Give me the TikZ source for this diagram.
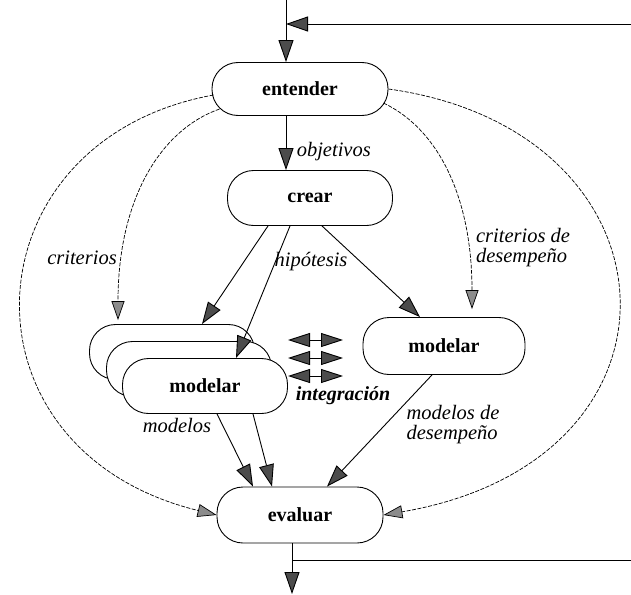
\documentclass[tikz,border=0pt]{standalone}
\usepackage{fontspec}
\setmainfont{Liberation Serif}
\usetikzlibrary{arrows.meta}
\usetikzlibrary{calc}
\usetikzlibrary{positioning}
\tikzset{proc/.style={draw, rounded corners=26pt, fill=white, minimum width=165pt,
    minimum height=55pt, line width=0.9pt, font=\fontsize{20}{24}\selectfont\bfseries}}
\tikzset{lbl/.style={font=\fontsize{20.5}{20}\selectfont\itshape, align=left}}
\tikzset{arr/.style={-{Triangle[length=22pt,width=15pt,fill=black!70]}, line width=0.9pt}}
\tikzset{crit/.style={-{Triangle[length=19pt,width=13pt,fill=black!45]}, line width=0.7pt,
    dash pattern=on 4pt off 1.5pt}}
\tikzset{dbl/.style={{Triangle[length=22pt,width=14pt,fill=black!70]}-{Triangle[length=22pt,width=14pt,fill=black!70]},
    line width=0.9pt}}

\begin{document}
\begin{tikzpicture}[x=1pt,y=-1pt]
   \useasboundingbox (0,0) rectangle (631,594);

   \node[proc, minimum width=176pt, minimum height=53pt] (entender) at (300,89) {entender};
   \node[proc] (crear) at (310,198) {crear};
   \node[proc] (modelarC) at (172,352) {};
   \node[proc] (modelarB) at (189,369) {};
   \node[proc] (modelarA) at (205,386) {modelar};
   \node[proc, minimum width=162pt, minimum height=57pt] (modelarD) at (444,346) {modelar};
   \node[proc, minimum width=166pt, minimum height=56pt] (evaluar) at (300,515) {evaluar};

   % entrada y salida
   \coordinate (inTop) at (286,0);
   \coordinate (inR) at (631,24);
   \coordinate (inJ) at (286,24);
   \coordinate (outB) at (292,594);
   \coordinate (outR) at (631,560);
   \draw[arr] (inTop) -- (inTop |- entender.north);
   \draw[arr] (inR) -- (inJ);
   \draw[arr] ($(evaluar.south)+(-8,0)$) -- (outB);
   \draw[line width=0.9pt] (outR) -- (outR -| outB);

   \draw[arr] (inJ |- entender.south) -- node[lbl, pos=0.65, right=7pt] {objetivos} (inJ |- crear.north);
   \draw[arr] ($(crear.south)+(-42,0)$) -- ($(modelarC.north)+(30,0)$);
   \draw[arr] ($(crear.south)+(-20,0)$) -- ($(modelarA.north)+(31,0)$);
   \draw[arr] ($(crear.south)+(12,0)$) -- ($(modelarD.north)+(-24,0)$);
   \draw[arr] ($(modelarA.south)+(12,0)$) -- ($(evaluar.north)+(-47,0)$);
   \draw[arr] ($(modelarA.south)+(48,0)$) -- ($(evaluar.north)+(-28,0)$);
   \draw[arr] ($(modelarD.south)+(-12,0)$) -- ($(evaluar.north)+(27,0)$);

   % criterios
   \draw[crit] ($(entender.west)+(2,6)$) .. controls (-35,140) and (-50,450) .. (evaluar.west);
   \draw[crit] (entender.east) .. controls (685,130) and (705,460) .. (evaluar.east);
   \draw[crit] ($(entender.west)+(8,20)$) .. controls (160,130) and (118,200) .. ($(modelarC.north)+(-54,-4)$);
   \draw[crit] ($(entender.east)+(-5,14)$) .. controls (440,130) and (472,200) .. ($(modelarD.north)+(28,-8)$);

   % integracion
   \foreach \y in {340,358,376}
      \draw[dbl] (288,\y) -- (343,\y);

   \node[lbl] (lcrit) at (82,258) {criterios};
   \node[lbl] (lhip) at (311,262) {hipótesis};
   \node[lbl] (lcritd) at (523,248) {criterios de\\desempeño};
   \node[lbl, font=\fontsize{20}{20}\selectfont\bfseries\itshape] (lint) at (343,396) {integración};
   \node[lbl] (lmod) at (177,425) {modelos};
   \node[lbl] (lmodd) at (453,425) {modelos de\\desempeño};
\end{tikzpicture}
\end{document}
